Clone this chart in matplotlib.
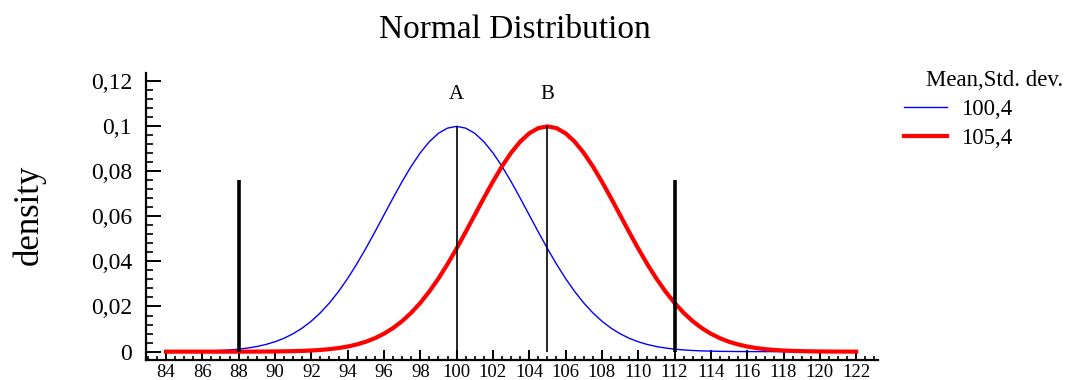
import numpy as np
import matplotlib.pyplot as plt
from matplotlib.ticker import MultipleLocator, FuncFormatter

# density values, every 0.5 on the x axis from 84 to 122
x = np.arange(84, 122.5, 0.5)
dens_a = [0.00003, 0.00005, 0.00009, 0.00014, 0.00022, 0.00034, 0.00051, 0.00076,
          0.00111, 0.00160, 0.00227, 0.00318, 0.00438, 0.00594, 0.00794, 0.01043,
          0.01350, 0.01720, 0.02157, 0.02663, 0.03238, 0.03875, 0.04566, 0.05297,
          0.06049, 0.06801, 0.07529, 0.08204, 0.08802, 0.09296, 0.09667, 0.09896,
          0.09974,
          0.09896, 0.09667, 0.09296, 0.08802, 0.08204, 0.07529, 0.06801, 0.06049,
          0.05297, 0.04566, 0.03875, 0.03238, 0.02663, 0.02157, 0.01720, 0.01350,
          0.01043, 0.00794, 0.00594, 0.00438, 0.00318, 0.00227, 0.00160, 0.00111,
          0.00076, 0.00051, 0.00034, 0.00022, 0.00014, 0.00009, 0.00005, 0.00003,
          0.00002, 0.00001, 0.00001,
          0.0, 0.0, 0.0, 0.0, 0.0, 0.0, 0.0, 0.0, 0.0]
dens_b = [0.0, 0.0, 0.0, 0.0, 0.0, 0.0, 0.0,
          0.00001, 0.00001, 0.00002,
          0.00003, 0.00005, 0.00009, 0.00014, 0.00022, 0.00034, 0.00051, 0.00076,
          0.00111, 0.00160, 0.00227, 0.00318, 0.00438, 0.00594, 0.00794, 0.01043,
          0.01350, 0.01720, 0.02157, 0.02663, 0.03238, 0.03875, 0.04566, 0.05297,
          0.06049, 0.06801, 0.07529, 0.08204, 0.08802, 0.09296, 0.09667, 0.09896,
          0.09974,
          0.09896, 0.09667, 0.09296, 0.08802, 0.08204, 0.07529, 0.06801, 0.06049,
          0.05297, 0.04566, 0.03875, 0.03238, 0.02663, 0.02157, 0.01720, 0.01350,
          0.01043, 0.00794, 0.00594, 0.00438, 0.00318, 0.00227, 0.00160, 0.00111,
          0.00076, 0.00051, 0.00034, 0.00022, 0.00014, 0.00009, 0.00005, 0.00003,
          0.00002, 0.00001]
legend_labels = ['100,4', '105,4']
means = [100, 105]
peak_heights = [0.0997, 0.0997]
mean_names = ['A', 'B']
limits = [88, 112]
limit_height = 0.076

plt.rcParams['font.family'] = ['Liberation Serif', 'DejaVu Serif']

fig = plt.figure(figsize=(10.72, 3.8), dpi=100)
ax = fig.add_axes([0.1362, 0.0526, 0.6828, 0.7561])

ax.plot(x, dens_a, color='#0000ff', lw=1.0, label=legend_labels[0])
ax.plot(x, dens_b, color='#ff0000', lw=3.0, label=legend_labels[1])

for m, h, name in zip(means, peak_heights, mean_names):
    ax.vlines(m, 0, h, color='black', lw=1.2)
    ax.text(m, 0.1137, name, ha='center', va='center', fontsize=15)
for lim in limits:
    ax.vlines(lim, 0, limit_height, color='black', lw=2.6)

ax.set_xlim(82.9, 123.2)
ax.set_ylim(-0.0037, 0.1235)
ax.spines['top'].set_visible(False)
ax.spines['right'].set_visible(False)
ax.spines['left'].set_linewidth(1.6)
ax.spines['bottom'].set_linewidth(1.6)

ax.set_xticks(np.arange(84, 123, 2))
ax.xaxis.set_minor_locator(MultipleLocator(0.5))
ax.yaxis.set_major_locator(MultipleLocator(0.02))
ax.yaxis.set_minor_locator(MultipleLocator(0.004))
ax.yaxis.set_major_formatter(FuncFormatter(lambda v, p: ('%g' % round(v, 4)).replace('.', ',')))

ax.tick_params(axis='y', which='major', direction='in', length=11, width=1.4, labelsize=17, pad=10)
ax.tick_params(axis='y', which='minor', direction='in', length=5, width=1.2)
ax.tick_params(axis='x', which='major', direction='in', length=7, width=1.4, labelsize=13.5, pad=3)
ax.tick_params(axis='x', which='minor', direction='in', length=3, width=1.2)

fig.text(0.4804, 0.921, 'Normal Distribution', ha='center', va='center', fontsize=24)
fig.text(0.027, 0.434, 'density', rotation=90, ha='center', va='center', fontsize=25)

fig.text(0.928, 0.789, 'Mean,Std. dev.', ha='center', va='center', fontsize=16.5)
ax.legend(loc='upper left', bbox_to_anchor=(0.843, 0.7395), bbox_transform=fig.transFigure,
          frameon=False, fontsize=16.5, handlelength=1.9, handletextpad=0.6,
          labelspacing=0.36, borderpad=0, borderaxespad=0)

fig.savefig('out.png', dpi=100)
